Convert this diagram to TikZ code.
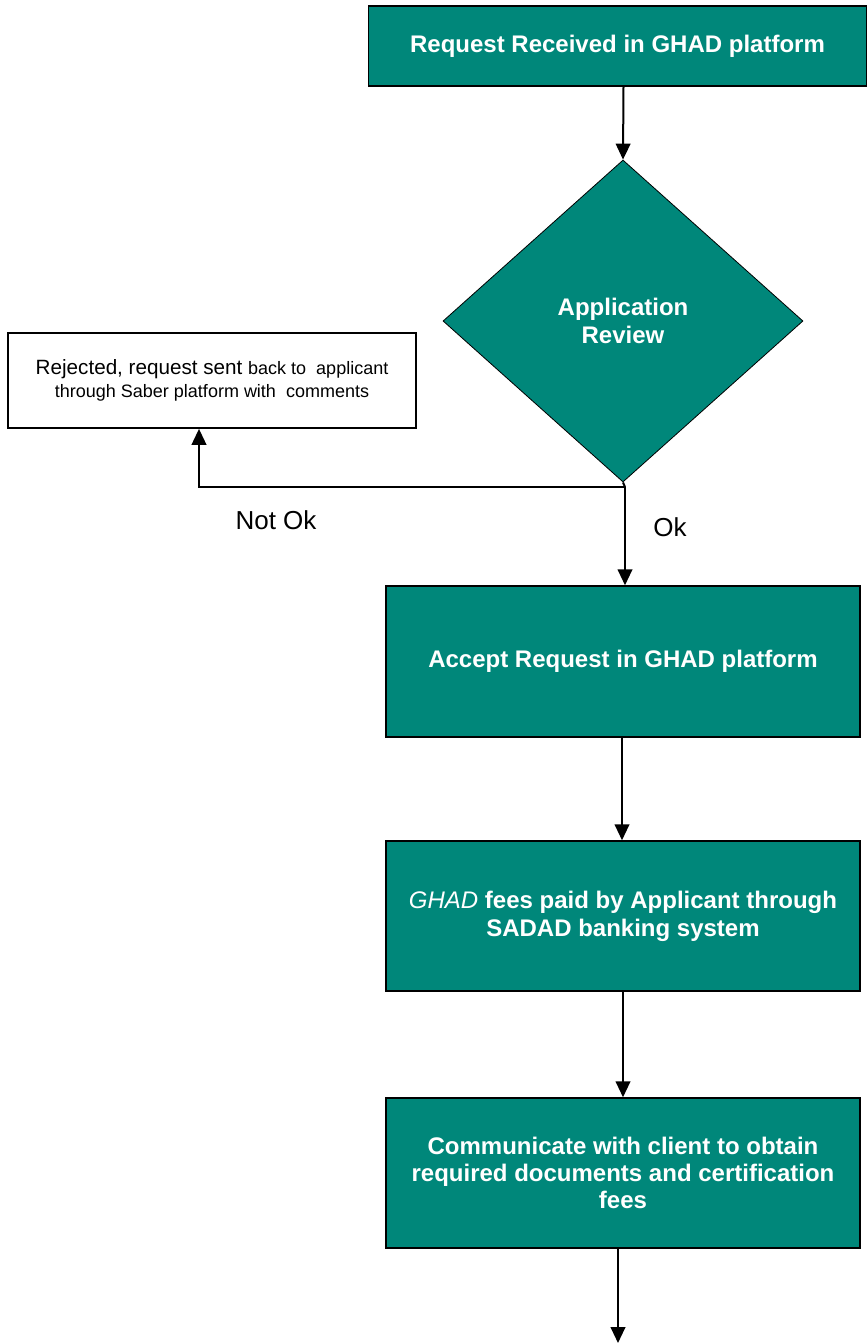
\documentclass[tikz,border=0pt]{standalone}
\usepackage{fontspec}
\setmainfont{Liberation Sans}
\usetikzlibrary{shapes.geometric,arrows.meta}
\definecolor{teal1}{RGB}{0,135,122}
\tikzset{
  stepbox/.style={draw=black,line width=1.1pt,fill=teal1,text=white,font=\fontsize{18}{20}\selectfont\bfseries,align=center,inner sep=0pt},
  arr/.style={line width=1.5pt,-{Triangle[width=11pt,length=12pt]}},
  ln/.style={line width=1.5pt},
}
\begin{document}
\begin{tikzpicture}[x=0.75pt,y=-0.75pt]
\useasboundingbox (0,0) rectangle (867,1343);
% boxes
\node[stepbox,minimum width=498*0.75pt,minimum height=80*0.75pt] (req) at (617.5,46) {Request Received in GHAD platform};
\node[draw=black,line width=0.6pt,diamond,fill=teal1,text=white,font=\fontsize{18}{21}\selectfont\bfseries,align=center,inner sep=0pt,minimum width=360*0.75pt,minimum height=322*0.75pt,aspect=1.118] (rev) at (623,321) {Application\\Review};
\node[draw=black,line width=1.3pt,fill=white,minimum width=408*0.75pt,minimum height=95*0.75pt,align=center,inner sep=0pt,font=\fontsize{15.5}{17}\selectfont] (rej) at (212,380.5) {Rejected, request sent {\fontsize{13.5}{17}\selectfont back to\ \ applicant}\\{\fontsize{13.5}{17}\selectfont through Saber platform with\ \ comments}};
\node[stepbox,minimum width=474*0.75pt,minimum height=151*0.75pt] (acc) at (623,661.5) {Accept Request in GHAD platform};
\node[stepbox,minimum width=474*0.75pt,minimum height=150*0.75pt,font=\fontsize{18}{21}\selectfont\bfseries] (fee) at (623,916) {{\mdseries\itshape GHAD} fees paid by Applicant through\\SADAD banking system};
\node[stepbox,minimum width=474*0.75pt,minimum height=150*0.75pt,font=\fontsize{18}{20.5}\selectfont\bfseries] (com) at (623,1173) {Communicate with client to obtain\\required documents and certification\\fees};
% labels
\node[font=\fontsize{19.5}{21}\selectfont] (nok) at (276,520) {Not Ok};
\node[font=\fontsize{19.5}{21}\selectfont] (ok) at (670,527) {Ok};
% connectors
\coordinate (j) at (625,487);
\coordinate (end) at (618,1343);
\draw[arr] ([xshift=6*0.75pt]req.south) -- (rev.north);
\draw[ln] (rev.south) -- (j);
\draw[arr] (j) -| ([xshift=-13*0.75pt]rej.south);
\draw[arr] (j) -- ([xshift=2*0.75pt]acc.north);
\draw[arr] ([xshift=-1*0.75pt]acc.south) -- ([xshift=-1*0.75pt]fee.north);
\draw[arr] (fee.south) -- (com.north);
\draw[arr] ([xshift=-5*0.75pt]com.south) -- (end);
\end{tikzpicture}
\end{document}
